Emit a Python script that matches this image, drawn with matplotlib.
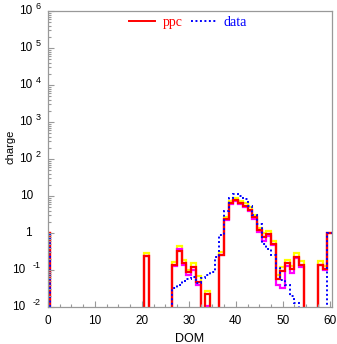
import numpy as np
import matplotlib
matplotlib.use("Agg")
import matplotlib.pyplot as plt
from matplotlib.ticker import MultipleLocator, LogLocator, NullFormatter, FixedLocator

# ---- data (one value per DOM, 0..60) ----
dom = np.arange(61)
ppc = [1.0, 0, 0, 0, 0, 0, 0, 0, 0, 0,
       0, 0, 0, 0, 0, 0, 0, 0, 0, 0,
       0, 0.245, 0, 0, 0, 0, 0, 0.135, 0.33, 0.15,
       0.088, 0.12, 0.047, 0, 0.022, 0, 0, 0.26, 2.4, 6.3,
       7.7, 6.3, 5.5, 4.2, 2.7, 1.2, 0.8, 0.95, 0.5, 0.058,
       0.095, 0.15, 0.105, 0.23, 0.137, 0, 0, 0, 0.14, 0.105,
       1.0]
ppc_hi = [1.0, 0, 0, 0, 0, 0, 0, 0, 0, 0,
          0, 0, 0, 0, 0, 0, 0, 0, 0, 0,
          0, 0.29, 0, 0, 0, 0, 0, 0.16, 0.44, 0.19,
          0.1, 0.15, 0.068, 0, 0.027, 0, 0, 0.3, 2.7, 7.2,
          8.8, 7.4, 6.3, 4.9, 3.1, 1.4, 1.0, 1.15, 0.6, 0.075,
          0.12, 0.19, 0.13, 0.29, 0.17, 0, 0, 0, 0.17, 0.125,
          1.0]
ppc_lo = [1.0, 0, 0, 0, 0, 0, 0, 0, 0, 0,
          0, 0, 0, 0, 0, 0, 0, 0, 0, 0,
          0, 0.24, 0, 0, 0, 0, 0, 0.13, 0.37, 0.135,
          0.072, 0.1, 0.04, 0, 0.0105, 0, 0, 0.25, 2.3, 5.9,
          7.2, 5.9, 5.0, 3.9, 2.4, 1.05, 0.62, 0.82, 0.46, 0.04,
          0.032, 0.13, 0.085, 0.21, 0.12, 0, 0, 0, 0.135, 0.1,
          1.0]
data = [1.0, 0, 0, 0, 0, 0, 0, 0, 0, 0,
        0, 0, 0, 0, 0, 0, 0, 0, 0, 0,
        0, 0, 0, 0, 0, 0, 0, 0.032, 0.039, 0.05,
        0.056, 0.065, 0.045, 0.06, 0.073, 0.087, 0.22, 0.9, 4.0, 9.0,
        11.5, 10.3, 8.2, 5.5, 3.0, 1.8, 0.5, 0.38, 0.25, 0.11,
        0.055, 0.04, 0.02, 0.013, 0, 0, 0, 0, 0, 0,
        1.0]
ytick_exps = [-2, -1, 0, 1, 2, 3, 4, 5, 6]
xticks = [0, 10, 20, 30, 40, 50, 60]

W, H = 337, 344
fig = plt.figure(figsize=(W / 100, H / 100), dpi=100)
L, R, T, B = 48, 332, 11, 307
ax = fig.add_axes([L / W, 1 - B / H, (R - L) / W, (B - T) / H])

edges = np.append(dom - 0.5, dom[-1] + 0.5)


def clean(v):
    v = np.asarray(v, dtype=float)
    return np.where(v > 0, v, 1e-6)


ax.stairs(clean(ppc_hi), edges, baseline=None, color="#ffff00", lw=1.6)
ax.stairs(clean(ppc_lo), edges, baseline=None, color="#ff00ff", lw=1.6)
ax.stairs(clean(ppc), edges, baseline=None, color="#ff0000", lw=1.6, label="ppc")
ax.stairs(clean(data), edges, baseline=None, color="#0000ff", lw=1.4,
          linestyle=(0, (1, 1.3)), label="data")

ax.set_yscale("log")
ax.set_xlim(0, 60.5)
ax.set_ylim(1e-2, 1e6)

frame_c = "#999999"
for s in ax.spines.values():
    s.set_color(frame_c)
    s.set_linewidth(0.9)

ax.xaxis.set_major_locator(FixedLocator(xticks))
ax.xaxis.set_minor_locator(MultipleLocator(2.5))
ax.yaxis.set_major_locator(LogLocator(base=10, numticks=20))
ax.yaxis.set_minor_locator(LogLocator(base=10, subs=np.arange(2, 10), numticks=100))
ax.yaxis.set_major_formatter(NullFormatter())
ax.yaxis.set_minor_formatter(NullFormatter())
ax.tick_params(which="both", direction="in", colors=frame_c, top=False, right=False)
ax.tick_params(which="major", length=4.5, width=0.8)
ax.tick_params(which="minor", length=2.5, width=0.8)
ax.tick_params(axis="x", which="major", labelcolor="black", labelsize=8.5, pad=6)
for lab in ax.get_xticklabels():
    lab.set_fontfamily("Liberation Sans")

# y tick labels, ROOT style
ytr = ax.get_yaxis_transform()
for e in ytick_exps:
    y = 10.0 ** e
    if e == 0:
        ax.text(-16 / (R - L), y, "1", transform=ytr, ha="right", va="center",
                fontsize=8.5, family="Liberation Sans")
    elif e == 1:
        ax.text(-15 / (R - L), y, "10", transform=ytr, ha="right", va="center",
                fontsize=8.5, family="Liberation Sans")
    else:
        es = str(e)
        if e < 0:
            xb = -23 / (R - L)
            xe = -15 / (R - L)
        else:
            xb = -16 / (R - L)
            xe = -12.5 / (R - L)
        ax.text(xb, y, "10", transform=ytr, ha="right", va="center",
                fontsize=8.5, family="Liberation Sans")
        ax.text(xe, y, es, transform=ytr, ha="left", va="bottom",
                fontsize=6.5, family="Liberation Sans")

ax.set_xlabel("DOM", fontsize=9, family="Liberation Sans", labelpad=4)
fig.text(10 / W, 1 - 147 / H, "charge", rotation=90, ha="center", va="center",
         fontsize=8, family="Liberation Sans")

leg = fig.legend(loc="center left", bbox_to_anchor=(129 / W, 1 - 22.7 / H),
                 bbox_transform=fig.transFigure, ncol=2, frameon=False,
                 handlelength=1.9, handletextpad=0.5, columnspacing=0.6,
                 borderpad=0, borderaxespad=0,
                 prop={"family": "Liberation Serif", "size": 10},
                 labelcolor="linecolor")
for h in leg.legend_handles:
    h.set_linewidth(1.4)

fig.savefig("out.png", dpi=100)
